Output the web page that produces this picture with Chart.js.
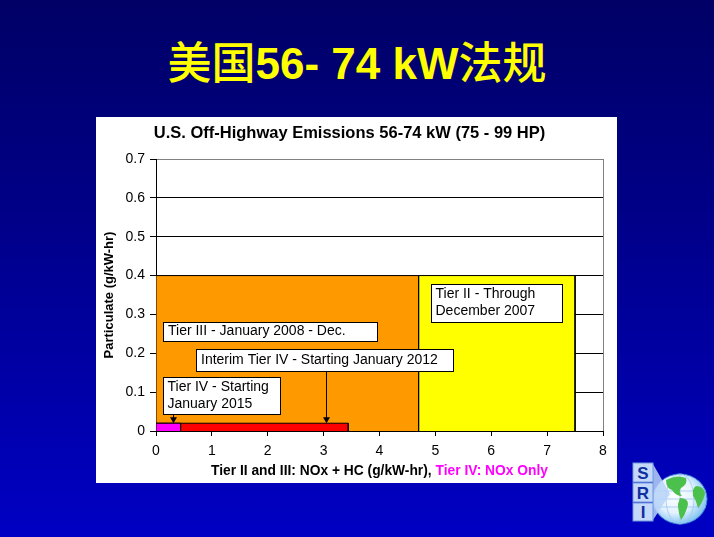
<!DOCTYPE html>
<html><head><meta charset="utf-8">
<script src="https://cdn.jsdelivr.net/npm/chart.js@4"></script>
<style>
html,body{margin:0;padding:0;width:714px;height:537px;overflow:hidden;}
body{background:linear-gradient(180deg,#000066 0%,#000088 40%,#0000c4 100%);position:relative;font-family:"Liberation Sans",Arial,sans-serif;}
#title{position:absolute;left:0;width:714px;top:33px;text-align:center;color:#ffff00;font-size:44px;line-height:54px;white-space:nowrap;}
#title .cjk{font-family:"Noto Sans CJK SC";font-weight:500;}
#title .lat{font-family:"Liberation Sans",Arial,sans-serif;font-weight:bold;}
#panel{position:absolute;left:96px;top:117px;width:521px;height:366px;background:#fff;}
#logo{position:absolute;left:626px;top:458px;}
</style></head>
<body>
<div id="title"><span class="cjk">美国</span><span class="lat">56- 74 kW</span><span class="cjk">法规</span></div>
<div id="panel"><canvas id="c" width="521" height="366"></canvas></div>
<svg id="logo" width="86" height="74" viewBox="0 0 86 74">
 <defs><radialGradient id="g" cx="0.42" cy="0.42" r="0.65"><stop offset="0" stop-color="#ffffff"/><stop offset="0.55" stop-color="#e4f2ff"/><stop offset="1" stop-color="#6ab8ee"/></radialGradient></defs>
 <ellipse cx="54" cy="41" rx="27" ry="25" fill="url(#g)" stroke="#3a80d8" stroke-width="1"/>
 <g stroke="#9cc8f0" stroke-width="0.8" fill="none">
  <ellipse cx="54" cy="41" rx="14" ry="25"/><line x1="54" y1="16" x2="54" y2="66"/>
  <line x1="28" y1="33" x2="80" y2="33"/><line x1="28" y1="49" x2="80" y2="49"/><line x1="27" y1="41" x2="81" y2="41"/>
 </g>
 <path d="M40,22 Q50,16 60,20 Q62,26 55,30 Q52,34 56,38 Q50,38 46,32 Q40,30 40,22Z" fill="#4cc04c"/>
 <path d="M54,40 Q62,40 62,46 Q60,56 55,62 Q52,54 52,46Z" fill="#4cc04c"/>
 <path d="M70,28 Q78,28 79,36 Q76,46 72,50 Q70,42 67,38 Q66,30 70,28Z" fill="#4cc04c"/>
 <polygon points="27,6 44,36 27,62" fill="#b8d4f8" opacity="0.85"/>
 <g font-family="Liberation Sans,Arial" font-weight="bold" font-size="17" fill="#1030a0" text-anchor="middle">
  <rect x="7" y="5" width="20" height="19" fill="#c4d8fa" stroke="#7098e0"/><text x="17" y="21">S</text>
  <rect x="7" y="25" width="20" height="19" fill="#c4d8fa" stroke="#7098e0"/><text x="17" y="41">R</text>
  <rect x="7" y="45" width="20" height="18" fill="#c4d8fa" stroke="#7098e0"/><text x="17" y="60">I</text>
 </g>
</svg>
<script>
// ---- data ----
const xTickLabels = ['0','1','2','3','4','5','6','7','8'];
const yTickLabels = ['0','0.1','0.2','0.3','0.4','0.5','0.6','0.7'];
const tierNames = ['Tier IV','Interim Tier IV','Tier III','Tier II'];
const noxLimits = [0.44, 3.44, 4.7, 7.5];    // g/kW-hr (as drawn)
const pmLimits  = [0.02, 0.02, 0.4, 0.4];    // g/kW-hr
const tierColors = ['#FF00FF','#FF0000','#FF9900','#FFFF00'];

// ---- annotation layout (data units) ----
const notes = [
  {lines:['Tier II - Through','December 2007'], x1:4.93, x2:7.27, y1:0.378, y2:0.281},
  {lines:['Tier III - January 2008 - Dec.'], x1:0.118, x2:3.95, y1:0.281, y2:0.231},
  {lines:['Interim Tier IV - Starting January 2012'], x1:0.708, x2:5.32, y1:0.2115, y2:0.154},
  {lines:['Tier IV - Starting','January 2015'], x1:0.118, x2:2.227, y1:0.138, y2:0.045}
];
const arrows = [{x:0.3, from:0.045, to:0.02},{x:3.04, from:0.154, to:0.02}];

const FONT = '"Liberation Sans", Arial, sans-serif';

const datasets = tierNames.map((name,i)=>({
  label:name,
  data:[{x:0,y:0},{x:0,y:pmLimits[i]},{x:noxLimits[i],y:pmLimits[i]},{x:noxLimits[i],y:0}],
  backgroundColor:tierColors[i],
  borderColor:'#000',
  borderWidth:1,
  pointRadius:0,
  tension:0,
  fill:'origin'
}));

const notePlugin = {
  id:'notes',
  afterDatasetsDraw(chart){
    const {ctx, scales:{x,y}, chartArea} = chart;
    ctx.save();
    ctx.strokeStyle='#000'; ctx.fillStyle='#000'; ctx.lineWidth=1;
    arrows.forEach(a=>{
      const px = Math.round(x.getPixelForValue(a.x))+0.5;
      const y0 = y.getPixelForValue(a.from), y1 = y.getPixelForValue(a.to);
      ctx.beginPath(); ctx.moveTo(px,y0); ctx.lineTo(px,y1-5); ctx.stroke();
      ctx.beginPath(); ctx.moveTo(px-3.5,y1-6); ctx.lineTo(px+3.5,y1-6); ctx.lineTo(px,y1); ctx.closePath(); ctx.fill();
    });
    ctx.font = '14px '+FONT;
    ctx.textBaseline='middle'; ctx.textAlign='left';
    notes.forEach(n=>{
      const l = Math.round(x.getPixelForValue(n.x1))+0.5, r = Math.round(x.getPixelForValue(n.x2))+0.5;
      const t = Math.round(y.getPixelForValue(n.y1))+0.5, b = Math.round(y.getPixelForValue(n.y2))+0.5;
      ctx.fillStyle='#fff'; ctx.fillRect(l,t,r-l,b-t);
      ctx.strokeStyle='#000'; ctx.strokeRect(l,t,r-l,b-t);
      ctx.fillStyle='#000';
      if(n.lines.length===1){
        ctx.fillText(n.lines[0], l+4.5, (t+b)/2-0.5);
      } else {
        n.lines.forEach((s,k)=>ctx.fillText(s, l+4, t+9.5+k*17));
      }
    });
    ctx.font = 'bold 13.8px '+FONT;
    const p1 = 'Tier II and III: NOx + HC (g/kW-hr), ', p2 = 'Tier IV: NOx Only';
    const w1 = ctx.measureText(p1).width, w2 = ctx.measureText(p2).width;
    const cx = (chartArea.left+chartArea.right)/2, cy = chartArea.bottom+40;
    const sx = cx-(w1+w2)/2;
    ctx.fillStyle='#000'; ctx.fillText(p1,sx,cy);
    ctx.fillStyle='#FF00FF'; ctx.fillText(p2,sx+w1,cy);
    ctx.restore();
  }
};

new Chart(document.getElementById('c'),{
  type:'line',
  data:{datasets},
  options:{
    responsive:false, animation:false, devicePixelRatio:1,
    layout:{padding:{left:0,right:14,top:0,bottom:0}},
    plugins:{
      legend:{display:false}, tooltip:{enabled:false},
      title:{display:true,text:'U.S. Off-Highway Emissions 56-74 kW (75 - 99 HP)',color:'#000',
        font:{family:FONT,size:16.5,weight:'bold'},padding:{top:6.2,bottom:16}}
    },
    scales:{
      x:{type:'linear',min:0,max:8,
        ticks:{stepSize:1,color:'#000',font:{family:FONT,size:14},padding:7,maxRotation:0,
          callback:(v,i)=>xTickLabels[i]},
        grid:{drawOnChartArea:true,tickLength:5,tickColor:'#000',
          color:c=>c.index===8?'#808080':'rgba(0,0,0,0)'},
        border:{display:true,color:'#000'},
        afterFit:s=>{s.height=52;}
      },
      y:{type:'linear',min:0,max:0.7,
        ticks:{stepSize:0.1,color:'#000',font:{family:FONT,size:14},padding:5,
          callback:(v,i)=>yTickLabels[i]},
        grid:{tickLength:6,tickColor:'#000',
          color:c=>c.index===7?'#808080':'#000'},
        border:{display:true,color:'#000'},
        title:{display:true,text:'Particulate (g/kW-hr)',color:'#000',font:{family:FONT,size:13,weight:'bold'},padding:{top:5.5,bottom:0}},
        afterFit:s=>{s.width=60;}
      }
    }
  },
  plugins:[notePlugin]
});
</script>
</body></html>
